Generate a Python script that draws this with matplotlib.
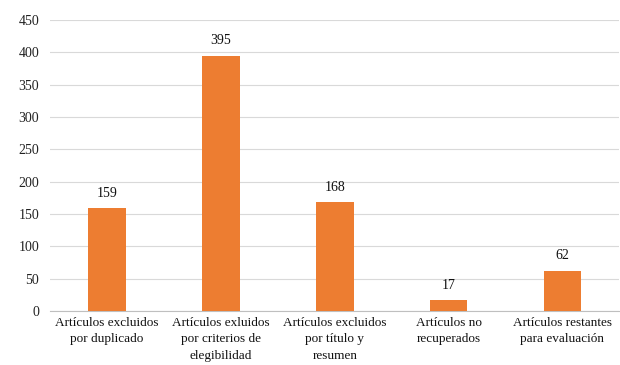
import matplotlib
matplotlib.use("Agg")
import matplotlib.pyplot as plt

# Article screening counts
categories = [
    "Artículos excluidos\npor duplicado",
    "Artículos exluidos\npor criterios de\nelegibilidad",
    "Artículos excluidos\npor título y\nresumen",
    "Artículos no\nrecuperados",
    "Artículos restantes\npara evaluación",
]
counts = [159, 395, 168, 17, 62]
y_ticks = [0, 50, 100, 150, 200, 250, 300, 350, 400, 450]

plt.rcParams["font.family"] = ["Liberation Serif", "DejaVu Serif"]

fig = plt.figure(figsize=(6.2, 3.65), dpi=100)
ax = fig.add_axes([0.081, 0.148, 0.918, 0.797])

x = range(len(categories))
bars = ax.bar(x, counts, width=0.33, color="#ED7D31", zorder=3)
for b, v in zip(bars, counts):
    ax.text(b.get_x() + b.get_width() / 2, v + 13, str(v),
            ha="center", va="bottom", fontsize=10, color="#111")

ax.set_xlim(-0.5, len(categories) - 0.5)
ax.set_ylim(0, 450)
ax.set_yticks(y_ticks)
ax.set_xticks(list(x))
ax.set_xticklabels(categories, fontsize=9.5, linespacing=1.55, color="#111")
ax.tick_params(axis="y", labelsize=10, length=0, pad=8, colors="#222")
ax.tick_params(axis="x", length=0, pad=4)
ax.grid(axis="y", color="#D9D9D9", linewidth=0.8, zorder=0)

for side in ("left", "right", "top"):
    ax.spines[side].set_visible(False)
ax.spines["bottom"].set_color("#BFBFBF")

fig.savefig("out.png", dpi=100)
